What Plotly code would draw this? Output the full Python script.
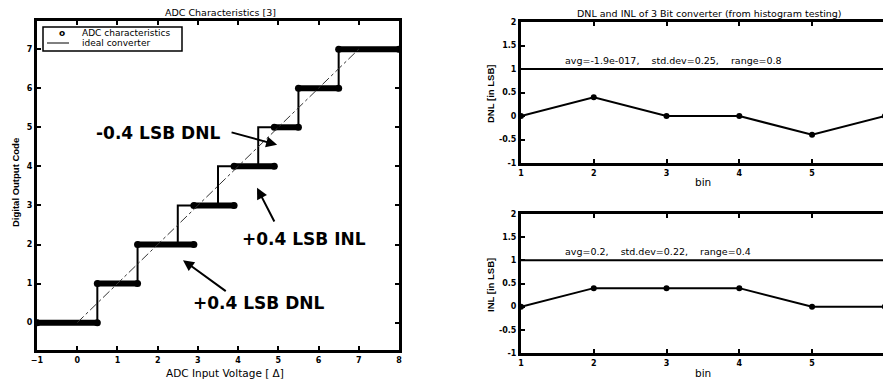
import plotly.graph_objects as go

# ---------------- data ----------------
# Left panel: ADC transfer characteristic
codes = [0, 1, 2, 3, 4, 5, 6, 7]
code_start = [-1, 0.5, 1.5, 2.9, 3.9, 4.9, 5.5, 6.5]   # actual transition levels (input, in LSB)
code_end = [0.5, 1.5, 2.9, 3.9, 4.9, 5.5, 6.5, 8]
ideal_x = [-1, 0.5, 1.5, 2.5, 3.5, 4.5, 5.5, 6.5, 8]   # ideal staircase breakpoints
ideal_y = [0, 1, 2, 3, 4, 5, 6, 7, 7]
diag_x = [0, 7]
diag_y = [0, 7]

# Right panels: DNL / INL per bin
bins = [1, 2, 3, 4, 5, 6]
dnl = [0, 0.4, 0, 0, -0.4, 0]
inl = [0, 0.4, 0.4, 0.4, 0, 0]
limit_level = 1

left_xticks = [-1, 0, 1, 2, 3, 4, 5, 6, 7, 8]
left_yticks = [0, 1, 2, 3, 4, 5, 6, 7]
right_yticks = [-1, -0.5, 0, 0.5, 1, 1.5, 2]
right_yticktext = ["-1", "-0.5", "0", "0.5", "1", "1.5", "2"]

dnl_stats = "avg=-1.9e-017,    std.dev=0.25,    range=0.8"
inl_stats = "avg=0.2,    std.dev=0.22,    range=0.4"

W, H = 883, 382
DV = "DejaVu Sans, sans-serif"
TITLE = dict(family=DV, size=9.5, color="black")
LABEL = dict(family=DV, size=10.5, color="black")
YLAB = dict(family="Liberation Sans, Arial, sans-serif", size=9.5, color="black", weight="bold")
BIG = dict(family=DV, size=17, color="black", weight="bold")

fig = go.Figure()

# ADC characteristic (thick segments)
seg_x, seg_y = [], []
for c, s, e in zip(codes, code_start, code_end):
    seg_x += [s, e, None]
    seg_y += [c, c, None]
fig.add_trace(go.Scatter(x=seg_x, y=seg_y, mode="lines+markers",
                         line=dict(color="black", width=6),
                         marker=dict(color="black", size=7, symbol="circle"),
                         showlegend=False, xaxis="x", yaxis="y"))
# ideal staircase
fig.add_trace(go.Scatter(x=ideal_x, y=ideal_y, mode="lines", line_shape="hv",
                         line=dict(color="black", width=2),
                         showlegend=False, xaxis="x", yaxis="y"))
# diagonal
fig.add_trace(go.Scatter(x=diag_x, y=diag_y, mode="lines",
                         line=dict(color="#333", width=1, dash="dashdot"),
                         showlegend=False, xaxis="x", yaxis="y"))

# DNL
fig.add_trace(go.Scatter(x=[bins[0], bins[-1]], y=[limit_level, limit_level], mode="lines",
                         line=dict(color="black", width=2), showlegend=False,
                         xaxis="x2", yaxis="y2"))
fig.add_trace(go.Scatter(x=bins, y=dnl, mode="lines+markers",
                         line=dict(color="black", width=2),
                         marker=dict(color="black", size=6), showlegend=False,
                         xaxis="x2", yaxis="y2"))
# INL
fig.add_trace(go.Scatter(x=[bins[0], bins[-1]], y=[limit_level, limit_level], mode="lines",
                         line=dict(color="black", width=2), showlegend=False,
                         xaxis="x3", yaxis="y3"))
fig.add_trace(go.Scatter(x=bins, y=inl, mode="lines+markers",
                         line=dict(color="black", width=2),
                         marker=dict(color="black", size=6), showlegend=False,
                         xaxis="x3", yaxis="y3"))

def ax(**kw):
    d = dict(showline=True, linewidth=3, linecolor="black", ticks="inside", ticklen=4,
             tickwidth=2, tickcolor="black", showgrid=False, zeroline=False, automargin=False,
             tickfont=dict(family=DV, size=8, color="black", weight="bold"))
    d.update(kw)
    return d

def px_x(p):
    return p / W

def px_y(p):
    return (H - p) / H

fig.update_layout(
    width=W, height=H, margin=dict(l=0, r=0, t=0, b=0, autoexpand=False),
    plot_bgcolor="white", paper_bgcolor="white", showlegend=False,
    xaxis=ax(domain=[px_x(37), px_x(399)], range=[-1, 8], tickvals=left_xticks, mirror="ticks",
             anchor="y"),
    yaxis=ax(domain=[px_y(350), px_y(21)], range=[-0.7, 7.72], tickvals=left_yticks, mirror="ticks",
             anchor="x"),
    xaxis2=ax(domain=[px_x(521), 1.0], range=[1, 5.975], tickvals=bins, mirror="ticks", anchor="y2"),
    yaxis2=ax(domain=[px_y(163), px_y(22)], range=[-1, 2], tickvals=right_yticks,
              ticktext=right_yticktext, anchor="x2"),
    xaxis3=ax(domain=[px_x(521), 1.0], range=[1, 5.975], tickvals=bins, mirror="ticks", anchor="y3"),
    yaxis3=ax(domain=[px_y(353), px_y(214)], range=[-1, 2], tickvals=right_yticks,
              ticktext=right_yticktext, anchor="x3"),
)

ann = []
def text(x, y, s, font=TITLE, xref="paper", yref="paper", angle=0, xanchor="center"):
    ann.append(dict(x=x, y=y, text=s, showarrow=False, xref=xref, yref=yref, font=font,
                    textangle=angle, xanchor=xanchor, yanchor="middle"))

# titles and axis labels
text(px_x(220), px_y(12), "ADC Characteristics [3]")
text(px_x(225), px_y(373), "ADC Input Voltage [ Δ]", font=LABEL)
text(px_x(15), px_y(183), "Digital Output Code", font=YLAB, angle=-90)
text(px_x(709), px_y(13), "DNL and INL of 3 Bit converter (from histogram testing)")
text(px_x(703), px_y(182), "bin", font=LABEL)
text(px_x(703), px_y(373), "bin", font=LABEL)
text(px_x(490), px_y(94), "DNL [in LSB]", font=YLAB, angle=-90)
text(px_x(490), px_y(285), "INL [in LSB]", font=YLAB, angle=-90)
text(px_x(563), px_y(60), dnl_stats, xanchor="left")
text(px_x(563), px_y(251), inl_stats, xanchor="left")

# manual legend box
LEG = dict(family=DV, size=9, color="black")
text(px_x(80), px_y(33), "ADC characteristics", font=LEG, xanchor="left")
text(px_x(80), px_y(43), "ideal converter", font=LEG, xanchor="left")
text(px_x(62), px_y(33), "<b>o</b>", font=LEG)

# annotations with arrows on the transfer characteristic
text(2.01, 4.85, "-0.4 LSB DNL", font=BIG, xref="x", yref="y")
text(5.64, 2.14, "+0.4 LSB INL", font=BIG, xref="x", yref="y")
text(4.52, 0.50, "+0.4 LSB DNL", font=BIG, xref="x", yref="y")
for (hx, hy, tx, ty) in [(4.97, 4.55, 3.80, 4.88), (4.47, 3.45, 4.92, 2.55), (2.63, 1.60, 3.73, 0.78)]:
    ann.append(dict(x=hx, y=hy, ax=tx, ay=ty, xref="x", yref="y", axref="x", ayref="y",
                    text="", showarrow=True, arrowhead=2, arrowsize=1.1, arrowwidth=2,
                    arrowcolor="black"))

shapes = [
    dict(type="rect", xref="paper", yref="paper", x0=px_x(43), x1=px_x(182), y0=px_y(51), y1=px_y(27),
         line=dict(color="black", width=1.5), fillcolor="rgba(0,0,0,0)", layer="below"),
    dict(type="line", xref="paper", yref="paper", x0=px_x(47), x1=px_x(69), y0=px_y(43), y1=px_y(43),
         line=dict(color="black", width=1)),
]
fig.update_layout(annotations=ann, shapes=shapes)

fig.write_html("out.html", config={"displayModeBar": False, "staticPlot": True},
               post_script="document.body.style.margin='0px';document.body.style.overflow='hidden';")
